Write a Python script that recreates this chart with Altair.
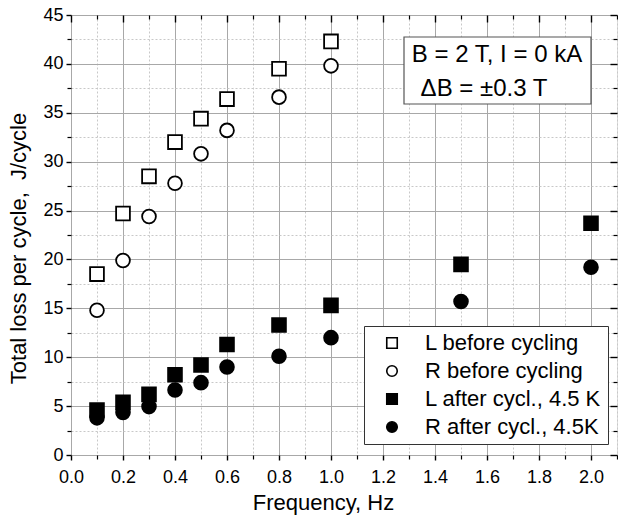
import altair as alt
import pandas as pd

# ---- data ----
freq_before = [0.1, 0.2, 0.3, 0.4, 0.5, 0.6, 0.8, 1.0]
L_before = [18.5, 24.7, 28.5, 32.0, 34.4, 36.4, 39.5, 42.3]
R_before = [14.8, 19.9, 24.4, 27.8, 30.8, 33.2, 36.6, 39.8]

freq_after = [0.1, 0.2, 0.3, 0.4, 0.5, 0.6, 0.8, 1.0, 1.5, 2.0]
L_after = [4.6, 5.4, 6.2, 8.2, 9.2, 11.3, 13.3, 15.3, 19.5, 23.7]
R_after = [3.8, 4.35, 4.95, 6.65, 7.4, 9.0, 10.1, 12.0, 15.7, 19.2]

series_names = ["L before cycling", "R before cycling",
                "L after cycl., 4.5 K", "R after cycl., 4.5K"]
series_shapes = ["square", "circle", "square", "circle"]
series_fills = ["white", "white", "black", "black"]
series_strokes = ["black", "black", "black", "black"]

x_major = [0.0, 0.2, 0.4, 0.6, 0.8, 1.0, 1.2, 1.4, 1.6, 1.8, 2.0]
x_minor = [0.1, 0.3, 0.5, 0.7, 0.9, 1.1, 1.3, 1.5, 1.7, 1.9, 2.1]
y_major = [0, 5, 10, 15, 20, 25, 30, 35, 40, 45]
y_minor = [2.5, 7.5, 12.5, 17.5, 22.5, 27.5, 32.5, 37.5, 42.5]

note_lines = ["B = 2 T, I = 0 kA", "ΔB = ±0.3 T"]
y_title = "Total loss per cycle,\u00a0\u00a0J/cycle"

rows = []
for name, xs, ys in [(series_names[0], freq_before, L_before),
                     (series_names[1], freq_before, R_before),
                     (series_names[2], freq_after, L_after),
                     (series_names[3], freq_after, R_after)]:
    for xv, yv in zip(xs, ys):
        rows.append({"f": xv, "loss": yv, "series": name})
df = pd.DataFrame(rows)

FONT = "Liberation Sans"
xs = alt.Scale(domain=[0, 2.1], nice=False, zero=False)
ys = alt.Scale(domain=[0, 45], nice=False, zero=False)

base = alt.Chart(df)

# minor grid + minor ticks (bottom / left)
minor = base.mark_point(opacity=0).encode(
    x=alt.X("f:Q", scale=xs, axis=alt.Axis(
        orient="bottom", values=x_minor, grid=True, gridDash=[2, 2],
        gridColor="#c8c8c8", gridWidth=1, ticks=True, tickSize=4,
        tickColor="black", tickWidth=1.2, labels=False, domain=False, title=None)),
    y=alt.Y("loss:Q", scale=ys, axis=alt.Axis(
        orient="left", values=y_minor, grid=True, gridDash=[2, 2],
        gridColor="#c8c8c8", gridWidth=1, ticks=True, tickSize=4,
        tickColor="black", tickWidth=1.2, labels=False, domain=False, title=None)),
)

# inward ticks on top / right
top_major = base.mark_point(opacity=0).encode(
    x=alt.X("f:Q", scale=xs, axis=alt.Axis(
        orient="top", values=x_major, grid=False, ticks=True, tickSize=7,
        offset=-7, tickColor="black", tickWidth=1.4, labels=False,
        domain=False, title=None)),
    y=alt.Y("loss:Q", scale=ys, axis=alt.Axis(
        orient="right", values=y_major, grid=False, ticks=True, tickSize=7,
        offset=-7, tickColor="black", tickWidth=1.4, labels=False,
        domain=False, title=None)),
)
top_minor = base.mark_point(opacity=0).encode(
    x=alt.X("f:Q", scale=xs, axis=alt.Axis(
        orient="top", values=x_minor, grid=False, ticks=True, tickSize=4,
        offset=-4, tickColor="black", tickWidth=1.2, labels=False,
        domain=False, title=None)),
    y=alt.Y("loss:Q", scale=ys, axis=alt.Axis(
        orient="right", values=y_minor, grid=False, ticks=True, tickSize=4,
        offset=-4, tickColor="black", tickWidth=1.2, labels=False,
        domain=False, title=None)),
)

legend_kw = dict(
    title=None, orient="none", legendX=293, legendY=311,
    fillColor="white", strokeColor="#333333",
    padding=6, symbolOffset=11, labelOffset=22,
    labelFont=FONT, labelFontSize=22, labelColor="black",
    symbolSize=110, symbolStrokeWidth=1.6,
    rowPadding=6, labelLimit=400,
)

points = base.mark_point(size=190, strokeWidth=1.8, filled=False, opacity=1).encode(
    x=alt.X("f:Q", scale=xs, axis=alt.Axis(
        orient="bottom", values=x_major, format=".1f", grid=True,
        gridColor="#a8a8a8", gridWidth=1, ticks=True, tickSize=5,
        tickColor="black", tickWidth=1.4, labelPadding=8, labelFontSize=18,
        labelFont=FONT, labelColor="black", labelFlush=False,
        labelOverlap=False, domain=False,
        title="Frequency, Hz", titleFont=FONT, titleFontSize=22,
        titleFontWeight="normal", titleColor="black", titlePadding=6,
        titleX=252)),
    y=alt.Y("loss:Q", scale=ys, axis=alt.Axis(
        orient="left", values=y_major, grid=True,
        gridColor="#a8a8a8", gridWidth=1, ticks=True, tickSize=5,
        tickColor="black", tickWidth=1.4, labelPadding=3, labelFontSize=18,
        labelFont=FONT, labelColor="black", labelFlush=False,
        labelOverlap=False, domain=False,
        title=y_title, titleFont=FONT,
        titleFontSize=22, titleFontWeight="normal", titleColor="black",
        titlePadding=12, titleY=233)),
    shape=alt.Shape("series:N", scale=alt.Scale(domain=series_names, range=series_shapes),
                    legend=alt.Legend(**legend_kw)),
    fill=alt.Fill("series:N", scale=alt.Scale(domain=series_names, range=series_fills),
                  legend=alt.Legend(**legend_kw)),
    stroke=alt.Stroke("series:N", scale=alt.Scale(domain=series_names, range=series_strokes),
                      legend=alt.Legend(**legend_kw)),
)

note_df = pd.DataFrame({"line": note_lines, "idx": [0, 1]})
box = alt.Chart(note_df).transform_filter("datum.idx == 0").mark_rect(
    fill="white", stroke="#555555", strokeWidth=1.2).encode(
    x=alt.value(333), x2=alt.value(520), y=alt.value(22), y2=alt.value(89))
note1 = alt.Chart(note_df).transform_filter("datum.idx == 0").mark_text(
    font=FONT, fontSize=24, align="center", baseline="middle", color="black").encode(
    text="line:N", x=alt.value(426), y=alt.value(40))
note2 = alt.Chart(note_df).transform_filter("datum.idx == 1").mark_text(
    font=FONT, fontSize=24, align="center", baseline="middle", color="black").encode(
    text="line:N", x=alt.value(413), y=alt.value(74))

chart = alt.layer(minor, top_major, top_minor, points, box, note1, note2).resolve_axis(
    x="independent", y="independent"
).properties(
    width=546, height=440,
    padding={"left": 71, "top": 15, "right": 1, "bottom": 61},
    autosize=alt.AutoSizeParams(type="none"),
).configure_view(
    stroke="black", strokeWidth=2
).configure(background="white")

chart.save("out.html", embed_options={"renderer": "svg", "actions": False})
